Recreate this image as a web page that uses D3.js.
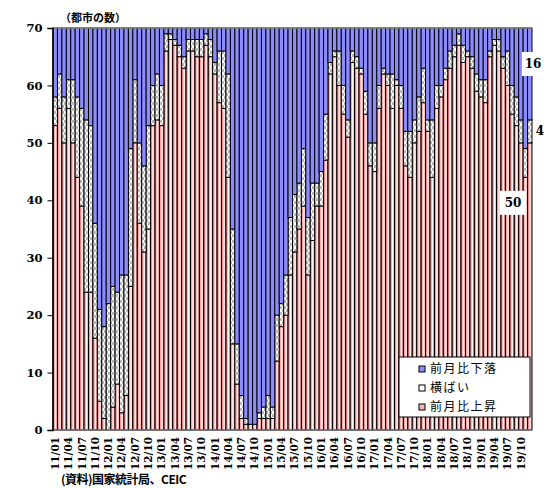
<!DOCTYPE html>
<html>
<head>
<meta charset="utf-8">
<script src="https://cdn.jsdelivr.net/npm/d3@7"></script>
<style>
  body { margin: 0; background: #fff; }
  svg { display: block; }
</style>
</head>
<body>
<div id="chart"></div>
<script>
// 年と月（2011/01〜2019/12）
const years = ["11", "12", "13", "14", "15", "16", "17", "18", "19"];
const monthNums = ["01","02","03","04","05","06","07","08","09","10","11","12"];

// 前月比上昇の都市数
const upCities = [
  53,56,50,56,50,44,39,24,24,16,5,2,
  0,4,8,3,6,25,50,36,31,35,53,54,
  53,66,68,67,65,63,66,66,65,65,67,65,
  62,57,56,44,15,8,2,1,1,1,2,2,
  2,2,12,18,20,27,31,35,39,27,33,39,
  39,47,62,65,60,55,51,64,63,62,55,46,
  45,56,62,60,56,60,56,46,44,50,52,57,
  52,44,56,58,61,63,65,67,64,65,63,59,
  58,57,65,67,66,63,60,55,53,50,44,50
];
// 横ばいの都市数
const flatCities = [
  5,6,8,5,11,14,17,30,29,20,16,16,
  22,21,16,24,21,24,11,14,15,18,7,8,
  7,3,1,1,2,2,2,2,3,3,2,3,
  2,9,10,18,20,7,4,1,0,0,1,2,
  4,2,8,4,7,10,10,8,10,10,10,4,
  6,8,2,1,6,5,3,2,2,1,4,4,
  5,4,1,2,6,1,4,6,8,4,6,6,
  2,10,4,2,2,3,2,2,3,1,2,3,
  3,4,1,1,2,2,6,5,5,4,5,4
];
// 前月比下落の都市数
const downCities = [
  12,8,12,9,9,12,14,16,17,34,49,52,
  48,45,46,43,43,21,9,20,24,17,10,8,
  10,1,1,2,3,5,2,2,2,2,1,2,
  6,4,4,8,35,55,64,68,69,69,67,66,
  64,66,50,48,43,33,29,27,21,33,27,27,
  25,15,6,4,4,10,16,4,5,7,11,20,
  20,10,7,8,8,9,10,18,18,16,12,7,
  16,16,10,10,7,4,3,1,3,4,5,8,
  9,9,4,2,2,5,4,10,12,16,21,16
];
// 軸の目盛ラベル
const xTickLabels = [
  "11/01","11/04","11/07","11/10","12/01","12/04","12/07","12/10",
  "13/01","13/04","13/07","13/10","14/01","14/04","14/07","14/10",
  "15/01","15/04","15/07","15/10","16/01","16/04","16/07","16/10",
  "17/01","17/04","17/07","17/10","18/01","18/04","18/07","18/10",
  "19/01","19/04","19/07","19/10"
];
const yTicks = [0, 10, 20, 30, 40, 50, 60, 70];
const seriesNames = ["前月比上昇", "横ばい", "前月比下落"];

// 月のカテゴリ
const months = [];
years.forEach(y => monthNums.forEach(m => months.push(`${y}/${m}`)));

const data = months.map((m, i) => ({
  month: m,
  up: upCities[i],
  flat: flatCities[i],
  down: downCities[i]
}));

const width = 546, height = 488;
const margin = { top: 28, right: 14, bottom: 58, left: 53 };
const plotW = width - margin.left - margin.right;
const plotH = height - margin.top - margin.bottom;

const svg = d3.select("#chart").append("svg")
  .attr("width", width)
  .attr("height", height);

const defs = svg.append("defs");

// 上昇：ピンクのグラデーション
const grad = defs.append("linearGradient")
  .attr("id", "pinkGrad")
  .attr("x1", "0").attr("x2", "1").attr("y1", "0").attr("y2", "0");
[["0%", "#ff7070"], ["35%", "#ffb0b0"], ["55%", "#ffffff"], ["80%", "#ffbcbc"], ["100%", "#ff8080"]]
  .forEach(([o, c]) => grad.append("stop").attr("offset", o).attr("stop-color", c));

// 横ばい：グレーの市松模様
const pat = defs.append("pattern")
  .attr("id", "flatPat")
  .attr("patternUnits", "userSpaceOnUse")
  .attr("width", 4).attr("height", 6);
pat.append("rect").attr("width", 4).attr("height", 6).attr("fill", "#ffffff");
pat.append("rect").attr("x", 0).attr("y", 0).attr("width", 2).attr("height", 3).attr("fill", "#b8b8b8");
pat.append("rect").attr("x", 2).attr("y", 3).attr("width", 2).attr("height", 3).attr("fill", "#b8b8b8");

const fills = { up: "url(#pinkGrad)", flat: "url(#flatPat)", down: "#8c8cff" };

const x = d3.scaleBand()
  .domain(months)
  .range([margin.left, margin.left + plotW])
  .padding(0);

const y = d3.scaleLinear()
  .domain([0, 70])
  .range([margin.top + plotH, margin.top]);

const stack = d3.stack().keys(["up", "flat", "down"]);
const layers = stack(data);

const g = svg.append("g");
g.selectAll("g.layer")
  .data(layers)
  .enter()
  .append("g")
  .attr("class", "layer")
  .attr("fill", d => fills[d.key])
  .selectAll("rect")
  .data(d => d.filter(v => v[1] - v[0] > 0))
  .enter()
  .append("rect")
  .attr("x", d => x(d.data.month))
  .attr("y", d => y(d[1]))
  .attr("width", x.bandwidth())
  .attr("height", d => y(d[0]) - y(d[1]))
  .attr("stroke", "#000")
  .attr("stroke-width", 1);

// 枠線（上・下）
svg.append("line")
  .attr("x1", margin.left).attr("x2", margin.left + plotW)
  .attr("y1", y(70)).attr("y2", y(70))
  .attr("stroke", "#888").attr("stroke-width", 1.5);
svg.append("line")
  .attr("x1", margin.left).attr("x2", margin.left + plotW)
  .attr("y1", y(0)).attr("y2", y(0))
  .attr("stroke", "#777").attr("stroke-width", 1.5);

// Y軸
const yAxis = svg.append("g")
  .attr("transform", `translate(${margin.left - 0.5},0)`)
  .call(d3.axisLeft(y).tickValues(yTicks).tickSize(5).tickPadding(5));
yAxis.select(".domain").attr("stroke", "#000").attr("stroke-width", 1.5);
yAxis.selectAll("line").attr("stroke", "#000");
yAxis.selectAll("text")
  .style("font-family", "'DejaVu Serif', serif")
  .style("font-weight", "bold")
  .style("font-size", "11.5px")
  .attr("fill", "#000");

// X軸ラベル（縦に回転）
const xAxis = svg.append("g")
  .attr("transform", `translate(0,${y(0)})`)
  .call(d3.axisBottom(x)
    .tickValues(xTickLabels)
    .tickSize(0)
    .tickPadding(0));
xAxis.select(".domain").remove();
xAxis.selectAll("text")
  .attr("transform", "rotate(-90)")
  .attr("x", -7)
  .attr("y", 0)
  .attr("dy", "0.35em")
  .attr("text-anchor", "end")
  .style("font-family", "'DejaVu Serif', serif")
  .style("font-weight", "bold")
  .style("font-size", "10.5px")
  .attr("fill", "#000");

// タイトル
svg.append("text")
  .attr("x", 60).attr("y", 22)
  .style("font-family", "'Noto Sans CJK JP', sans-serif")
  .style("font-weight", "bold")
  .style("font-size", "11px")
  .text("（都市の数）");

// 出所
svg.append("text")
  .attr("x", 61).attr("y", 484)
  .style("font-family", "'Noto Sans CJK JP', sans-serif")
  .style("font-weight", "bold")
  .style("font-size", "12px")
  .attr("letter-spacing", "-0.5px")
  .text("(資料)国家統計局、CEIC");

// 最新月の数値ラベル
const last = data[data.length - 1];
function valueLabel(cx, cy, txt, boxW) {
  svg.append("rect")
    .attr("x", cx - boxW / 2).attr("y", cy - 12)
    .attr("width", boxW).attr("height", 24)
    .attr("fill", "#fff");
  svg.append("text")
    .attr("x", cx).attr("y", cy)
    .attr("dy", "0.35em")
    .attr("text-anchor", "middle")
    .style("font-family", "'DejaVu Serif', serif")
    .style("font-weight", "bold")
    .style("font-size", "12px")
    .text(txt);
}
valueLabel(533, y(last.up + last.flat + last.down) + 36, String(last.down), 22);
valueLabel(540, y(last.up + last.flat / 2) - 1, String(last.flat), 0);
valueLabel(513, y(last.up) + 60, String(last.up), 26);

// 凡例
const legend = svg.append("g").attr("transform", "translate(399,357)");
legend.append("rect")
  .attr("width", 131).attr("height", 60)
  .attr("fill", "#fff").attr("stroke", "#000").attr("stroke-width", 1);
const legendItems = [
  { name: seriesNames[2], fill: "#8c8cff" },
  { name: seriesNames[1], fill: "#ffffff" },
  { name: seriesNames[0], fill: "#ffb0b0" }
];
legendItems.forEach((it, i) => {
  const ly = 12 + i * 19;
  legend.append("rect")
    .attr("x", 20).attr("y", ly - 3)
    .attr("width", 6).attr("height", 6)
    .attr("fill", it.fill).attr("stroke", "#000").attr("stroke-width", 1);
  legend.append("text")
    .attr("x", 31).attr("y", ly)
    .attr("dy", "0.36em")
    .style("font-family", "'Noto Sans CJK JP', sans-serif")
    .style("font-size", "12px")
    .attr("letter-spacing", "1.5px")
    .text(it.name);
});
</script>
</body>
</html>
